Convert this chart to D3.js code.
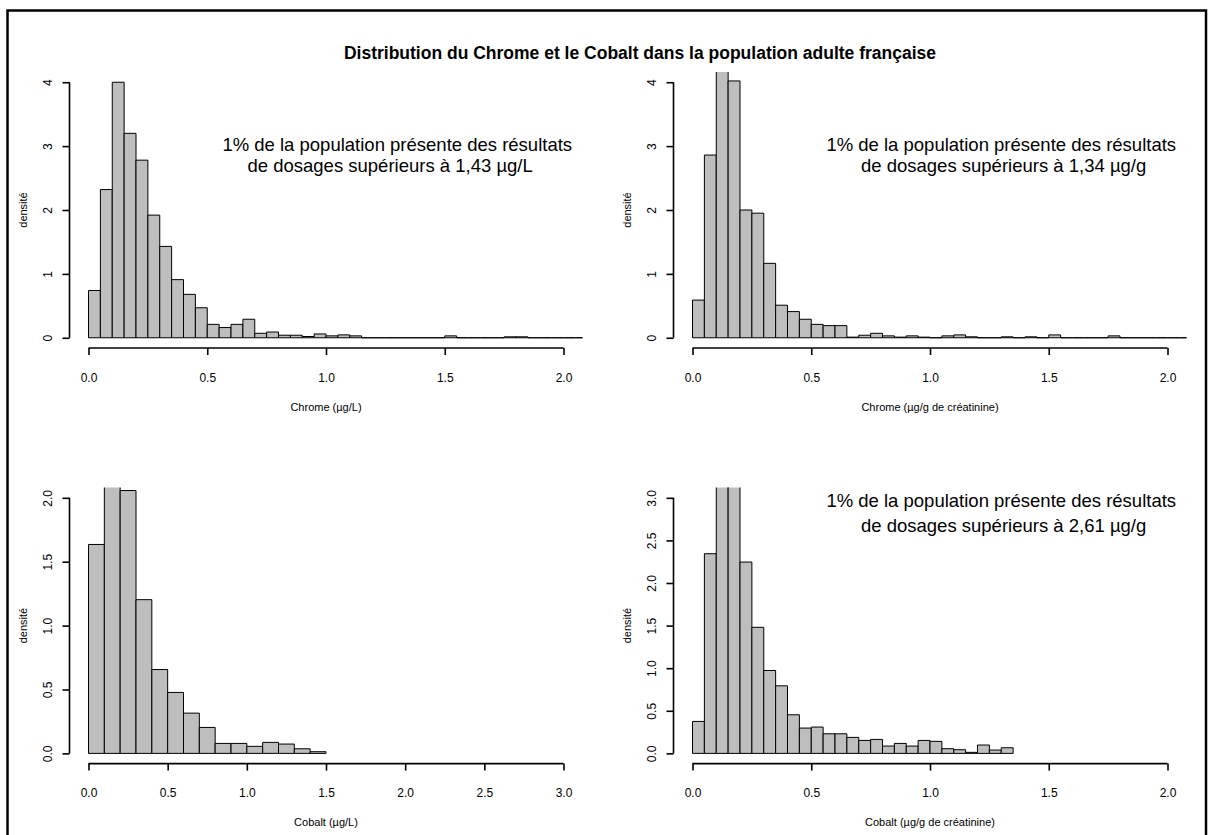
<!DOCTYPE html>
<html>
<head>
<meta charset="utf-8">
<script src="https://cdn.jsdelivr.net/npm/d3@7/dist/d3.min.js"></script>
<style>
body { margin: 0; background: #fff; }
svg { display: block; font-family: "Liberation Sans", Arial, Helvetica, sans-serif; }
</style>
</head>
<body>
<div id="chart"></div>
<script>
const mainTitle = "Distribution du Chrome et le Cobalt dans la population adulte française";

// densities per bin
const chromeL = [0.74, 2.32, 4.0, 3.2, 2.78, 1.92, 1.43, 0.91, 0.68, 0.47,
  0.21, 0.16, 0.21, 0.29, 0.07, 0.09, 0.04, 0.04, 0.02, 0.06,
  0.03, 0.045, 0.03, 0, 0, 0, 0, 0, 0, 0,
  0.03, 0, 0, 0, 0, 0.015, 0.015, 0, 0, 0, 0, 0];
const chromeG = [0.59, 2.86, 4.5, 4.02, 2.0, 1.95, 1.165, 0.51, 0.41, 0.29,
  0.21, 0.19, 0.19, 0.01, 0.04, 0.07, 0.03, 0.01, 0.03, 0.01,
  0, 0.03, 0.045, 0.015, 0, 0, 0.015, 0, 0.015, 0,
  0.045, 0, 0, 0, 0, 0.03, 0, 0, 0, 0, 0, 0];
const cobaltL = [1.635, 2.25, 2.057, 1.203, 0.656, 0.477, 0.315, 0.203, 0.078, 0.078,
  0.055, 0.086, 0.073, 0.036, 0.013];
const cobaltG = [0.375, 2.344, 3.5, 3.3, 2.246, 1.48, 0.973, 0.793, 0.453, 0.297,
  0.309, 0.23, 0.23, 0.1875, 0.152, 0.164, 0.086, 0.117, 0.086, 0.152,
  0.141, 0.055, 0.043, 0.012, 0.098, 0.039, 0.066];

const xTicksTo2 = [0, 0.5, 1, 1.5, 2];
const xTicksTo3 = [0, 0.5, 1, 1.5, 2, 2.5, 3];
const yTicksTo4 = [0, 1, 2, 3, 4];
const yTicksTo2 = [0, 0.5, 1, 1.5, 2];
const yTicksTo3 = [0, 0.5, 1, 1.5, 2, 2.5, 3];

const xLabels = ["Chrome (µg/L)", "Chrome (µg/g de créatinine)", "Cobalt (µg/L)", "Cobalt (µg/g de créatinine)"];
const yLabel = "densité";

const notes = [
  ["1% de la population présente des résultats", "de dosages supérieurs à 1,43 µg/L"],
  ["1% de la population présente des résultats", "de dosages supérieurs à 1,34 µg/g"],
  null,
  ["1% de la population présente des résultats", "de dosages supérieurs à 2,61 µg/g"]
];

const panels = [
  { data: chromeL, bin: 0.05, xlim: [0, 2], ylim: [0, 4], xTicks: xTicksTo2, yTicks: yTicksTo4, yFmt: d3.format("d"),
    noteAt: [[1.3, 3.02], [1.27, 2.7]] },
  { data: chromeG, bin: 0.05, xlim: [0, 2], ylim: [0, 4], xTicks: xTicksTo2, yTicks: yTicksTo4, yFmt: d3.format("d"),
    noteAt: [[1.3, 3.02], [1.31, 2.7]] },
  { data: cobaltL, bin: 0.1, xlim: [0, 3], ylim: [0, 2], xTicks: xTicksTo3, yTicks: yTicksTo2, yFmt: d3.format(".1f"),
    noteAt: null },
  { data: cobaltG, bin: 0.05, xlim: [0, 2], ylim: [0, 3], xTicks: xTicksTo2, yTicks: yTicksTo3, yFmt: d3.format(".1f"),
    noteAt: [[1.3, 2.97], [1.31, 2.67]] }
];

const width = 1208, height = 835;
const colW = 604, rowH = 415.6;
const plot = { left: 69.5, right: 582.5, top: 72, bottom: 348 };

const svg = d3.select("#chart").append("svg")
  .attr("width", width)
  .attr("height", height);

svg.append("rect")
  .attr("width", width).attr("height", height).attr("fill", "#fff");

svg.append("rect")
  .attr("x", 7.5).attr("y", 10.5)
  .attr("width", 1198.5).attr("height", 840)
  .attr("fill", "none").attr("stroke", "#000").attr("stroke-width", 2.5);

svg.append("text")
  .attr("x", 640).attr("y", 53).attr("dy", "0.35em")
  .attr("text-anchor", "middle")
  .attr("font-size", 17.5).attr("font-weight", "bold")
  .text(mainTitle);

const defs = svg.append("defs");

panels.forEach((p, i) => {
  const ox = (i % 2) * colW;
  const oy = Math.floor(i / 2) * rowH;
  const left = ox + plot.left, right = ox + plot.right;
  const top = oy + plot.top, bottom = oy + plot.bottom;

  const xPad = (p.xlim[1] - p.xlim[0]) * 0.04;
  const yPad = (p.ylim[1] - p.ylim[0]) * 0.04;
  const x = d3.scaleLinear().domain([p.xlim[0] - xPad, p.xlim[1] + xPad]).range([left, right]);
  const y = d3.scaleLinear().domain([p.ylim[0] - yPad, p.ylim[1] + yPad]).range([bottom, top]);

  defs.append("clipPath").attr("id", "clip" + i)
    .append("rect")
    .attr("x", left - 1).attr("y", top)
    .attr("width", right - left + 1).attr("height", bottom - top);

  const g = svg.append("g");

  // paths so that empty bins still show as a line on the baseline
  g.append("g")
    .attr("clip-path", `url(#clip${i})`)
    .selectAll("path")
    .data(p.data)
    .join("path")
    .attr("d", (d, k) => {
      const x0 = x(k * p.bin), x1 = x((k + 1) * p.bin);
      return `M${x0},${y(0)}V${y(d)}H${x1}V${y(0)}Z`;
    })
    .attr("fill", "#bebebe")
    .attr("stroke", "#000")
    .attr("stroke-width", 1);

  // x axis, line only between first and last tick like R
  const gx = g.append("g")
    .attr("transform", `translate(0,${bottom})`)
    .call(d3.axisBottom(x).tickValues(p.xTicks).tickFormat(d3.format(".1f")).tickSize(7).tickPadding(18));
  gx.select(".domain").remove();
  gx.append("line")
    .attr("x1", x(p.xTicks[0])).attr("x2", x(p.xTicks[p.xTicks.length - 1]))
    .attr("stroke", "#000");
  gx.selectAll("line").attr("stroke-width", 1.6);
  gx.selectAll("text").attr("font-size", 12).attr("fill", "#000")
    .attr("font-family", "Liberation Sans, Arial, sans-serif");

  const gy = g.append("g")
    .attr("transform", `translate(${left},0)`)
    .call(d3.axisLeft(y).tickValues(p.yTicks).tickFormat(p.yFmt).tickSize(7));
  gy.select(".domain").remove();
  gy.append("line")
    .attr("y1", y(p.yTicks[0])).attr("y2", y(p.yTicks[p.yTicks.length - 1]))
    .attr("stroke", "#000");
  gy.selectAll("line").attr("stroke-width", 1.6);
  gy.selectAll("text")
    .attr("x", 0).attr("y", 0).attr("dy", "0.35em")
    .attr("text-anchor", "middle")
    .attr("transform", "translate(-21.5,0) rotate(-90)")
    .attr("font-size", 12).attr("fill", "#000")
    .attr("font-family", "Liberation Sans, Arial, sans-serif");

  g.append("text")
    .attr("x", (left + right) / 2).attr("y", bottom + 59).attr("dy", "0.35em")
    .attr("text-anchor", "middle").attr("font-size", 11)
    .text(xLabels[i]);

  g.append("text")
    .attr("transform", `translate(${left - 46.5},${(top + bottom) / 2}) rotate(-90)`)
    .attr("dy", "0.35em")
    .attr("text-anchor", "middle").attr("font-size", 11)
    .text(yLabel);

  if (p.noteAt) {
    notes[i].forEach((line, k) => {
      g.append("text")
        .attr("x", x(p.noteAt[k][0])).attr("y", y(p.noteAt[k][1])).attr("dy", "0.35em")
        .attr("text-anchor", "middle").attr("font-size", 18.5)
        .text(line);
    });
  }
});
</script>
</body>
</html>
